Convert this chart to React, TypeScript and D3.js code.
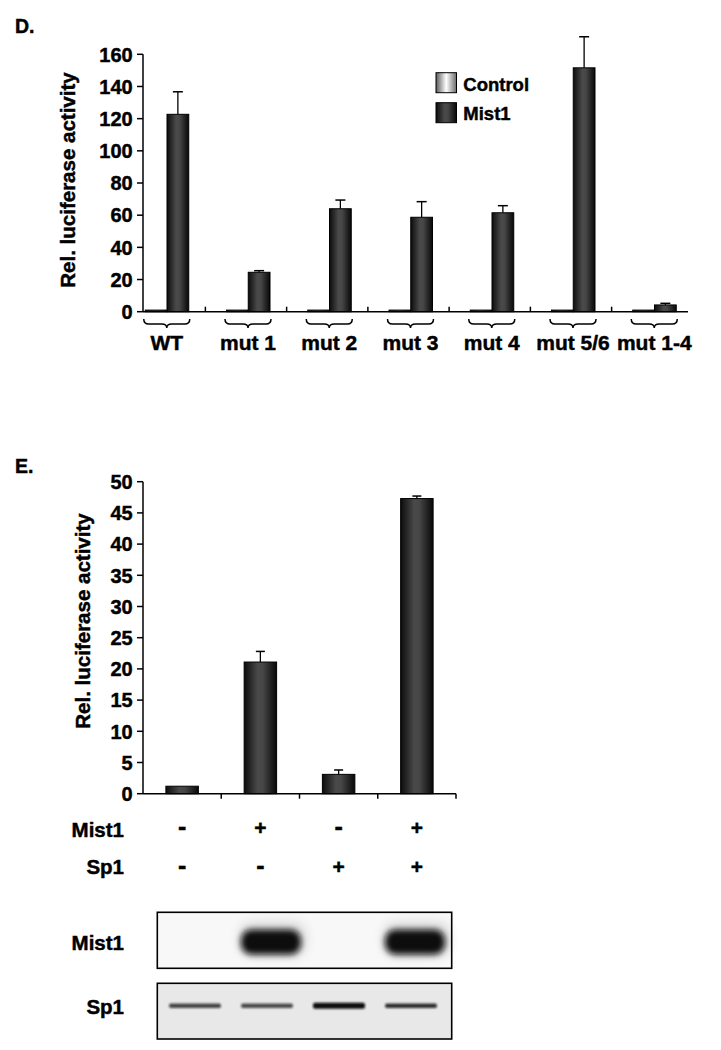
import React from 'react';
import * as d3 from 'd3';

// ---------- Panel D data ----------
const dCategories = ['WT', 'mut 1', 'mut 2', 'mut 3', 'mut 4', 'mut 5/6', 'mut 1-4'];
const dSeries = ['Control', 'Mist1'];
const dControl = [1, 1, 1, 1, 1, 1, 1];
const dMist1 = [122.7, 24.5, 64.0, 58.7, 61.5, 151.6, 4.2];
const dMist1Err = [14, 1, 5.4, 9.7, 4.4, 19.3, 1];
const dTicks = [0, 20, 40, 60, 80, 100, 120, 140, 160];

// ---------- Panel E data ----------
const eLanes = ['1', '2', '3', '4'];
const eMist1Sign = ['-', '+', '-', '+'];
const eSp1Sign = ['-', '-', '+', '+'];
const eValues = [1.2, 21.1, 3.1, 47.3];
const eErr = [0, 1.7, 0.7, 0.4];
const eTicks = [0, 5, 10, 15, 20, 25, 30, 35, 40, 45, 50];

// Western blot band intensities (0..1)
const blotMist1 = [0, 1, 0, 1];
const blotSp1 = [0.75, 0.72, 1, 0.85];

const FONT = '"Liberation Sans", Arial, Helvetica, sans-serif';

export default function App() {
  // Panel D scales
  const yD = d3.scaleLinear().domain([0, 160]).range([311.7, 54.3]);
  const xD = d3.scalePoint<string>().domain(dCategories).range([166.75, 654.25]);
  const step = xD.step();
  const xSub = d3.scaleBand<string>().domain(dSeries).range([-21.5, 22]);
  const dAxisX0 = 143;
  const dAxisX1 = 688;

  // Panel E scales
  const yE = d3.scaleLinear().domain([0, 50]).range([793.7, 481.7]);
  const xE = d3.scaleBand<string>().domain(eLanes).range([143, 456]).paddingInner(0.585).paddingOuter(0.2925);
  const eStep = xE.step();
  const blotX = d3.scalePoint<string>().domain(eLanes).range([194, 410]);

  const brace = (cx: number) => {
    const w = 23;
    const y0 = 319;
    const y1 = 324;
    const path = d3.path();
    path.moveTo(cx - w, y0);
    path.quadraticCurveTo(cx - w, y1, cx - w + 5, y1);
    path.lineTo(cx - 5, y1);
    path.quadraticCurveTo(cx, y1, cx, y1 + 4);
    path.quadraticCurveTo(cx, y1, cx + 5, y1);
    path.lineTo(cx + w - 5, y1);
    path.quadraticCurveTo(cx + w, y1, cx + w, y0);
    return path.toString();
  };

  const T = { stroke: '#000', strokeWidth: 0.45 };

  return (
    <svg
      width={721}
      height={1050}
      style={{ position: 'absolute', left: 0, top: 0, background: '#fff' }}
      fontFamily={FONT}
      fontWeight="bold"
    >
      <defs>
        <linearGradient id="barGrad" x1="0" x2="1" y1="0" y2="0">
          <stop offset="0" stopColor="#0c0c0c" />
          <stop offset="0.42" stopColor="#4a4a4a" />
          <stop offset="0.58" stopColor="#464646" />
          <stop offset="1" stopColor="#080808" />
        </linearGradient>
        <linearGradient id="ctrlGrad" x1="0" x2="1" y1="0" y2="0">
          <stop offset="0" stopColor="#5a5a5a" />
          <stop offset="0.5" stopColor="#ffffff" />
          <stop offset="1" stopColor="#6a6a6a" />
        </linearGradient>
        <filter id="blurBig" x="-30%" y="-60%" width="160%" height="220%">
          <feGaussianBlur stdDeviation="3" />
        </filter>
        <filter id="blurSmall" x="-20%" y="-200%" width="140%" height="500%">
          <feGaussianBlur stdDeviation="1.1" />
        </filter>
        <filter id="blurTiny" x="-50%" y="-50%" width="200%" height="200%">
          <feGaussianBlur stdDeviation="6" />
        </filter>
      </defs>

      {/* ================= Panel D ================= */}
      <text x={15} y={33.3} fontSize={19.5} {...T}>D.</text>

      {/* y axis */}
      <line x1={dAxisX0} x2={dAxisX0} y1={yD(160)} y2={yD(0)} stroke="#000" strokeWidth={1.5} />
      {dTicks.map((t) => (
        <g key={'dt' + t}>
          <line x1={dAxisX0 - 6} x2={dAxisX0} y1={yD(t)} y2={yD(t)} stroke="#000" strokeWidth={1.5} />
          <text x={132.7} y={yD(t)} dy="0.36em" textAnchor="end" fontSize={20} {...T}>{t}</text>
        </g>
      ))}
      <text transform={`translate(75,180) rotate(-90)`} textAnchor="middle" fontSize={20.5} {...T}>
        Rel. luciferase activity
      </text>

      {/* bars */}
      {dCategories.map((c, i) => {
        const cx = xD(c) as number;
        const bw = xSub.bandwidth();
        const xc = cx + (xSub('Control') as number);
        const xm = cx + (xSub('Mist1') as number);
        return (
          <g key={'db' + c}>
            <rect x={xc} y={yD(dControl[i])} width={bw} height={yD(0) - yD(dControl[i])} fill="url(#barGrad)" stroke="#000" strokeWidth={1} />
            <line x1={xm + bw / 2} x2={xm + bw / 2} y1={yD(dMist1[i])} y2={yD(dMist1[i] + dMist1Err[i])} stroke="#000" strokeWidth={1.3} />
            <line x1={xm + bw / 2 - 5} x2={xm + bw / 2 + 5} y1={yD(dMist1[i] + dMist1Err[i])} y2={yD(dMist1[i] + dMist1Err[i])} stroke="#000" strokeWidth={1.5} />
            <rect x={xm} y={yD(dMist1[i])} width={bw} height={yD(0) - yD(dMist1[i])} fill="url(#barGrad)" stroke="#000" strokeWidth={1} />
          </g>
        );
      })}

      {/* x axis */}
      <line x1={dAxisX0} x2={dAxisX1} y1={yD(0)} y2={yD(0)} stroke="#000" strokeWidth={1.5} />
      {dCategories.slice(0, -1).map((c) => {
        const x = (xD(c) as number) + step / 2 - 2;
        return <line key={'dxt' + c} x1={x} x2={x} y1={yD(0)} y2={yD(0) - 5} stroke="#000" strokeWidth={1.5} />;
      })}
      {dCategories.map((c) => (
        <g key={'dl' + c}>
          <path d={brace(xD(c) as number)} fill="none" stroke="#000" strokeWidth={1.5} />
          <text x={xD(c) as number} y={350} textAnchor="middle" fontSize={21} {...T}>{c}</text>
        </g>
      ))}

      {/* legend */}
      {dSeries.map((s, i) => (
        <g key={'lg' + s}>
          <rect x={436} y={72.7 + i * 30} width={20.5} height={20} fill={i === 0 ? 'url(#ctrlGrad)' : 'url(#barGrad)'} stroke="#000" strokeWidth={1} />
          <text x={463.3} y={90.7 + i * 29.5} fontSize={18.5} {...T}>{s}</text>
        </g>
      ))}

      {/* ================= Panel E ================= */}
      <text x={15} y={473.3} fontSize={19.5} {...T}>E.</text>

      <line x1={143} x2={143} y1={yE(50)} y2={yE(0)} stroke="#000" strokeWidth={1.5} />
      {eTicks.map((t) => (
        <g key={'et' + t}>
          <line x1={137} x2={143} y1={yE(t)} y2={yE(t)} stroke="#000" strokeWidth={1.5} />
          <text x={132.7} y={yE(t)} dy="0.36em" textAnchor="end" fontSize={20} {...T}>{t}</text>
        </g>
      ))}
      <text transform={`translate(90,621) rotate(-90)`} textAnchor="middle" fontSize={20.5} {...T}>
        Rel. luciferase activity
      </text>

      {eLanes.map((l, i) => {
        const x = xE(l) as number;
        const bw = xE.bandwidth();
        const top = yE(eValues[i]);
        return (
          <g key={'eb' + l}>
            {eErr[i] > 0 && (
              <>
                <line x1={x + bw / 2} x2={x + bw / 2} y1={top} y2={yE(eValues[i] + eErr[i])} stroke="#000" strokeWidth={1.3} />
                <line x1={x + bw / 2 - 4.5} x2={x + bw / 2 + 4.5} y1={yE(eValues[i] + eErr[i])} y2={yE(eValues[i] + eErr[i])} stroke="#000" strokeWidth={1.5} />
              </>
            )}
            <rect x={x} y={top} width={bw} height={yE(0) - top} fill="url(#barGrad)" stroke="#000" strokeWidth={1} />
          </g>
        );
      })}
      <line x1={143} x2={456} y1={yE(0)} y2={yE(0)} stroke="#000" strokeWidth={1.5} />
      {eLanes.map((l) => {
        const x = (xE(l) as number) + xE.bandwidth() / 2 + eStep / 2;
        return <line key={'ext' + l} x1={x} x2={x} y1={yE(0)} y2={yE(0) + 5} stroke="#000" strokeWidth={1.5} />;
      })}

      {/* +/- rows */}
      <text x={124} y={836.7} textAnchor="end" fontSize={20.5} {...T}>Mist1</text>
      <text x={124} y={874.3} textAnchor="end" fontSize={20.5} {...T}>Sp1</text>
      {eLanes.map((l, i) => {
        const cx = (xE(l) as number) + xE.bandwidth() / 2;
        return (
          <g key={'pm' + l}>
            <text x={cx} y={835} textAnchor="middle" fontSize={eMist1Sign[i] === '-' ? 25 : 21} {...T}>{eMist1Sign[i]}</text>
            <text x={cx} y={873.5} textAnchor="middle" fontSize={eSp1Sign[i] === '-' ? 25 : 21} {...T}>{eSp1Sign[i]}</text>
          </g>
        );
      })}

      {/* Western blots */}
      <text x={124} y={950} textAnchor="end" fontSize={20.5} {...T}>Mist1</text>
      <text x={124} y={1013.5} textAnchor="end" fontSize={20.5} {...T}>Sp1</text>

      <rect x={157.3} y={912.3} width={294.4} height={56} fill="#f8f8f8" />
      {eLanes.map((l, i) =>
        blotMist1[i] > 0 ? (
          <g key={'bm' + l}>
            <rect x={(blotX(l) as number) - 27} y={921} width={68} height={36} rx={14} fill="#000" opacity={0.1 * blotMist1[i]} filter="url(#blurTiny)" />
            <rect x={(blotX(l) as number) - 25} y={929.5} width={60} height={25} rx={11} fill="#0a0a0a" opacity={blotMist1[i]} filter="url(#blurBig)" />
          </g>
        ) : null
      )}
      <rect x={157.3} y={912.3} width={294.4} height={56} fill="none" stroke="#000" strokeWidth={1.6} />

      <rect x={157.3} y={983.3} width={294.4} height={55.7} fill="#e8e8e8" />
      {eLanes.map((l, i) => (
        <rect
          key={'bs' + l}
          x={(blotX(l) as number) - 25}
          y={1005.7 - (blotSp1[i] > 0.9 ? 3 : 2.2)}
          width={52}
          height={blotSp1[i] > 0.9 ? 6 : 4.4}
          rx={2}
          fill="#111"
          opacity={blotSp1[i]}
          filter="url(#blurSmall)"
        />
      ))}
      <rect x={157.3} y={983.3} width={294.4} height={55.7} fill="none" stroke="#000" strokeWidth={1.6} />
    </svg>
  );
}
